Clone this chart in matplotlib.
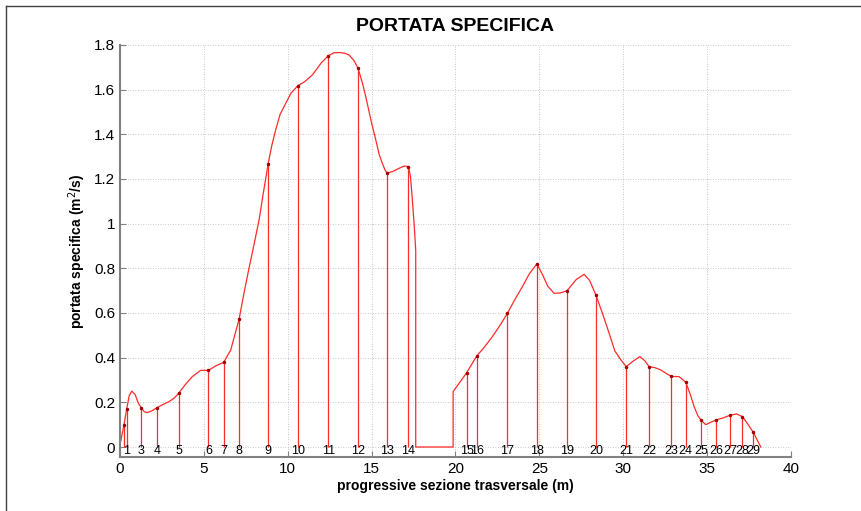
import matplotlib
matplotlib.use("Agg")
import matplotlib.pyplot as plt
from matplotlib.lines import Line2D

plt.rcParams['font.family'] = ['Liberation Sans', 'DejaVu Sans']

# sezioni: progressiva (m), portata specifica (m2/s), etichetta
sez_x = [0.24, 0.40, 1.27, 2.19, 3.52, 5.27, 6.18, 7.10, 8.83, 10.61, 12.42, 14.19, 15.94, 17.19,
         20.67, 21.27, 23.10, 24.85, 26.64, 28.37, 30.18, 31.54, 32.86, 33.73, 34.63, 35.52,
         36.37, 37.11, 37.75]
sez_q = [0.10, 0.17, 0.176, 0.175, 0.243, 0.343, 0.379, 0.572, 1.267, 1.618, 1.752, 1.696, 1.226,
         1.255, 0.333, 0.408, 0.599, 0.82, 0.699, 0.681, 0.36, 0.36, 0.316, 0.29, 0.121, 0.121,
         0.142, 0.136, 0.066]
sez_lab = ['', '1', '3', '4', '5', '6', '7', '8', '9', '10', '11', '12', '13', '14',
           '15', '16', '17', '18', '19', '20', '21', '22', '23', '24', '25', '26', '27', '28', '29']

# profilo della curva
curva_x = [0.0, 0.24, 0.40, 0.55, 0.70, 0.90, 1.10, 1.27, 1.45, 1.63, 1.90, 2.19, 2.55, 2.92, 3.25,
           3.52, 3.90, 4.31, 4.81, 5.27, 5.70, 6.18, 6.60, 7.10, 7.39, 7.69, 8.00, 8.30, 8.55, 8.83,
           9.05, 9.28, 9.55, 9.88, 10.20, 10.61, 11.00, 11.47, 12.00, 12.42, 12.75, 13.10, 13.40,
           13.66, 13.95, 14.19, 14.45, 14.65, 15.00, 15.25, 15.45, 15.64, 15.80, 15.94, 16.30,
           16.64, 16.95, 17.19, 17.32, 17.43, 17.55, 17.63, 17.63, 19.86, 19.86,
           20.67, 21.27, 21.70, 22.20, 22.70, 23.10, 23.50, 23.99, 24.40, 24.85, 25.20, 25.50,
           25.88, 26.25, 26.64, 27.20, 27.67, 28.00, 28.37, 28.80, 29.16, 29.50, 29.86, 30.18,
           30.60, 30.99, 31.30, 31.54, 31.90, 32.24, 32.55, 32.86, 33.33, 33.73, 34.00, 34.23,
           34.45, 34.63, 34.92, 35.20, 35.52, 35.95, 36.37, 36.75, 37.11, 37.45, 37.75, 38.20]
curva_q = [0.01, 0.10, 0.17, 0.23, 0.25, 0.235, 0.195, 0.176, 0.158, 0.154, 0.162, 0.175, 0.19, 0.203,
           0.22, 0.243, 0.28, 0.315, 0.343, 0.343, 0.363, 0.379, 0.434, 0.572, 0.688, 0.80, 0.91,
           1.02, 1.14, 1.267, 1.35, 1.42, 1.49, 1.539, 1.585, 1.618, 1.635, 1.666, 1.72, 1.752,
           1.765, 1.766, 1.763, 1.755, 1.73, 1.696, 1.63, 1.569, 1.45, 1.375, 1.31, 1.27, 1.24,
           1.226, 1.235, 1.248, 1.258, 1.255, 1.21, 1.106, 0.98, 0.88, 0.0,
           0.0, 0.248, 0.333, 0.408, 0.445, 0.494, 0.55, 0.599, 0.655, 0.718, 0.775, 0.82, 0.77,
           0.72, 0.688, 0.69, 0.699, 0.75, 0.773, 0.745, 0.681, 0.59, 0.509, 0.43, 0.39, 0.36,
           0.385, 0.405, 0.385, 0.36, 0.355, 0.345, 0.33, 0.316, 0.315, 0.29, 0.235, 0.18, 0.14,
           0.121, 0.10, 0.11, 0.121, 0.13, 0.142, 0.148, 0.136, 0.10, 0.066, 0.0]

fig = plt.figure(figsize=(8.62, 5.11), dpi=100)
ax = fig.add_axes([0.1392, 0.1047, 0.7784, 0.8073])

ax.plot(curva_x, curva_q, color='#ff2a2a', lw=0.9)
ax.vlines(sez_x, 0, sez_q, color='#ff2a2a', lw=0.9)
ax.plot(sez_x, sez_q, '.', color='#a00000', ms=3)
for x, lab in zip(sez_x, sez_lab):
    ax.text(x, -0.02, lab, ha='center', va='center', fontsize=9)

ax.set_xlim(0, 40)
ax.set_ylim(-0.047, 1.8)
ax.set_xticks(range(0, 41, 5))
ax.set_yticks([0, 0.2, 0.4, 0.6, 0.8, 1, 1.2, 1.4, 1.6, 1.8])
ax.set_yticklabels(['0', '0.2', '0.4', '0.6', '0.8', '1', '1.2', '1.4', '1.6', '1.8'])
ax.tick_params(direction='in', length=4, labelsize=11, color='#808080')
ax.grid(True, color='#b8b8b8', lw=0.6, linestyle=(0, (1, 2)))
ax.spines['top'].set_visible(False)
ax.spines['right'].set_visible(False)
for s in ['left', 'bottom']:
    ax.spines[s].set_color('#808080')
    ax.spines[s].set_linewidth(1.5)

ax.set_title('PORTATA SPECIFICA', fontsize=14, fontweight='bold', pad=10)
ax.set_xlabel('progressive sezione trasversale (m)', fontsize=10, fontweight='bold', labelpad=2)
ax.set_ylabel('portata specifica (m$^2$/s)', fontsize=10, fontweight='bold')

# cornice
fig.add_artist(Line2D([6 / 862, 6 / 862], [0, 1 - 6 / 511], color='#404040', lw=1))
fig.add_artist(Line2D([6 / 862, 1], [1 - 6 / 511, 1 - 6 / 511], color='#404040', lw=1))

fig.savefig('out.png', dpi=100)
